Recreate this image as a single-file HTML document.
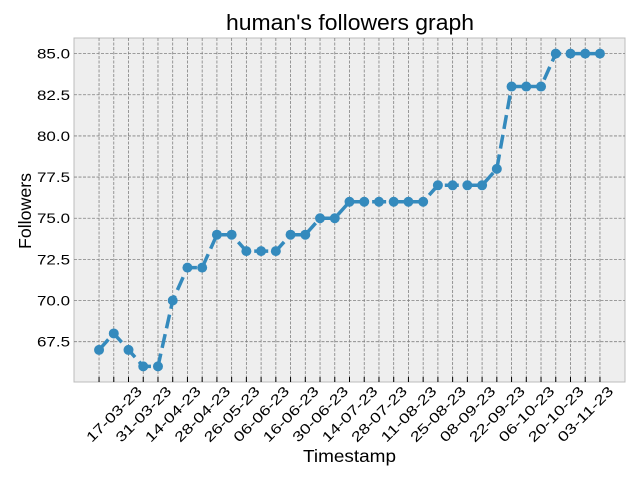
<!DOCTYPE html>
<html><head><meta charset="utf-8"><style>
body{margin:0;background:#fff;font-family:"Liberation Sans","DejaVu Sans",sans-serif}
</style></head><body>
<svg id="chart" width="640" height="480" xmlns="http://www.w3.org/2000/svg">
<rect x="0" y="0" width="640" height="480" fill="#fff"/>
<rect x="74" y="38" width="551" height="344" fill="#eeeeee" stroke="#bcbcbc" stroke-width="1"/>
<g id="grid"></g><g id="ticks"></g><g id="series"></g>
<text x="226" y="30" font-size="22" textLength="248" lengthAdjust="spacingAndGlyphs" fill="#000">human's followers graph</text>
<text x="303" y="462" font-size="17.5" textLength="93" lengthAdjust="spacingAndGlyphs" fill="#000">Timestamp</text>
<text transform="translate(31,249) rotate(-90)" font-size="17.5" textLength="76" lengthAdjust="spacingAndGlyphs" fill="#000">Followers</text>
</svg>
<script>
const values=[67,68,67,66,66,70,72,72,74,74,73,73,73,74,74,75,75,76,76,76,76,76,76,77,77,77,77,78,83,83,83,85,85,85,85];
const xLabels=["17-03-23","31-03-23","14-04-23","28-04-23","26-05-23","06-06-23","16-06-23","30-06-23","14-07-23","28-07-23","11-08-23","25-08-23","08-09-23","22-09-23","06-10-23","20-10-23","03-11-23"];
const yTicks=[67.5,70,72.5,75,77.5,80,82.5,85];
const NS="http://www.w3.org/2000/svg";
const L=74,R=625,T=38,B=382;
const n=values.length;
const x0=-0.05*(n-1),x1=(n-1)*1.05;
const mn=Math.min(...values),mx=Math.max(...values),pad=(mx-mn)*0.05;
const y0=mn-pad,y1=mx+pad;
const X=i=>L+(i-x0)/(x1-x0)*(R-L);
const Y=v=>B-(v-y0)/(y1-y0)*(B-T);
function mk(tag,attrs,parent){const e=document.createElementNS(NS,tag);for(const k in attrs)e.setAttribute(k,attrs[k]);parent.appendChild(e);return e;}
const grid=document.getElementById('grid'),ticks=document.getElementById('ticks'),series=document.getElementById('series');
for(let i=0;i<n;i++){
 const l=mk('line',{x1:X(i),x2:X(i),y1:T,y2:B,stroke:'#808080','stroke-width':0.8,'stroke-dasharray':'3,1.5'},grid);
 
 
 const t=mk('line',{x1:X(i),x2:X(i),y1:B-5,y2:B,stroke:'#000','stroke-width':1},ticks);
 
 
}
xLabels.forEach((s,k)=>{
 const i=2*k+1;
 const tx=mk('text',{transform:`translate(${X(i)},${B+32}) rotate(-45)`,'font-size':14,'text-anchor':'middle',dy:'5',textLength:'72',lengthAdjust:'spacingAndGlyphs',fill:'#000'},ticks);
 tx.textContent=s;
 
 
});
yTicks.forEach(v=>{
 const l=mk('line',{x1:L,x2:R,y1:Y(v),y2:Y(v),stroke:'#808080','stroke-width':0.8,'stroke-dasharray':'3,1.5'},grid);
 
 
 const tx=mk('text',{x:L-4,y:Y(v)+5,'font-size':14,'text-anchor':'end',textLength:'33',lengthAdjust:'spacingAndGlyphs',fill:'#000'},ticks);
 tx.textContent=v.toFixed(1);
 
 
});
const pts=values.map((v,i)=>X(i)+','+Y(v)).join(' ');
const line=mk('polyline',{points:pts,fill:'none',stroke:'#348abd','stroke-width':3.5,'stroke-dasharray':'14,6'},series);


values.forEach((v,i)=>{
 const c=mk('circle',{cx:X(i),cy:Y(v),r:5,fill:'#348abd'},series);
 
 
});
</script>
</body></html>
